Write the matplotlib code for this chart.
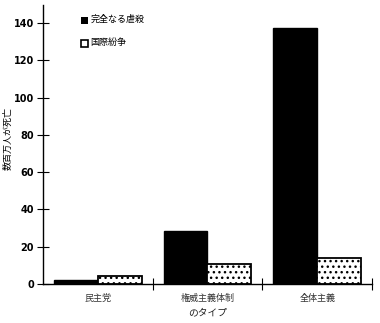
import matplotlib
matplotlib.use("Agg")
import matplotlib.pyplot as plt
import numpy as np

plt.rcParams['font.family'] = ['Noto Sans CJK JP', 'DejaVu Sans']
plt.rcParams['hatch.linewidth'] = 1.0

categories = ['民主党', '権威主義体制', '全体主義']
genocide = [2, 28.5, 137.5]
war = [4.3, 10.5, 14]
series_names = ['完全なる虐殺', '国際紛争']
yticks = [0, 20, 40, 60, 80, 100, 120, 140]

fig = plt.figure(figsize=(3.8, 3.23), dpi=100)
ax = fig.add_axes([0.113, 0.121, 0.866, 0.865])

x = np.arange(len(categories))
w = 0.4
ax.bar(x - w / 2, genocide, w, color='black', edgecolor='black', linewidth=1)
ax.bar(x + w / 2, war, w, color='white', edgecolor='black', linewidth=1.3, hatch='...')

ax.set_xlim(-0.5, 2.5)
ax.set_ylim(0, 150)
ax.spines['top'].set_visible(False)
ax.spines['right'].set_visible(False)
ax.spines['left'].set_linewidth(1)
ax.spines['bottom'].set_linewidth(1)

ax.set_yticks(yticks)
ax.set_yticklabels([str(v) for v in yticks], fontsize=7, fontweight='bold', family='DejaVu Sans')
ax.tick_params(axis='y', direction='inout', length=9, width=0.8, pad=2)

ax.set_xticks([0.5, 1.5, 2.5])
ax.set_xticklabels([])
ax.tick_params(axis='x', direction='inout', length=8, width=0.8)
for i, c in enumerate(categories):
    ax.text(i, -8, c, ha='center', va='center', fontsize=6.5, color='#333333')
ax.text(1, -15.5, 'のタイプ', ha='center', va='center', fontsize=7, color='#222222')

ax.set_ylabel('数百万人が死亡', fontsize=6.5)
ax.yaxis.set_label_coords(-0.092, 0.52)

# legend
ax.bar([-0.123], [3.8], 0.064, bottom=139.5, color='black')
ax.text(-0.068, 142, series_names[0], ha='left', va='center', fontsize=6.5)
ax.bar([-0.123], [3.8], 0.064, bottom=127, color='white', edgecolor='black', linewidth=1.2, hatch='.')
ax.text(-0.068, 129.5, series_names[1], ha='left', va='center', fontsize=6.5)

fig.savefig('out.png', dpi=100)
